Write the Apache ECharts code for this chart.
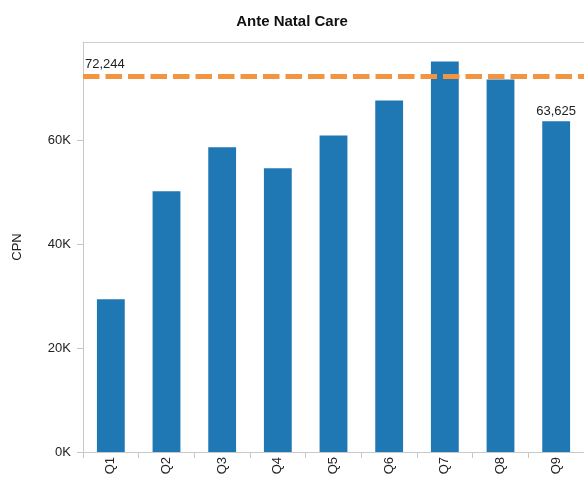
<!DOCTYPE html>
<html>
<head>
<meta charset="utf-8">
<script src="https://cdn.jsdelivr.net/npm/echarts@6/dist/echarts.min.js"></script>
<style>
html,body{margin:0;padding:0;background:#fff;}
#chart{width:584px;height:478px;}
</style>
</head>
<body>
<div id="chart"></div>
<script>
const categories = ['Q1','Q2','Q3','Q4','Q5','Q6','Q7','Q8','Q9'];
const values = [29400, 50150, 58600, 54570, 60900, 67600, 75100, 71650, 63625];
const targetValue = 72244;
const yTicks = [0, 20000, 40000, 60000];
const yMax = 78860;
const labelledIndex = 8;

const fmt = v => v.toLocaleString('en-US');
const chart = echarts.init(document.getElementById('chart'), null, {renderer: 'canvas'});
chart.setOption({
  animation: false,
  textStyle: {fontFamily: 'Liberation Sans, Arial, sans-serif'},
  title: {
    text: 'Ante Natal Care', left: 'center', top: 9,
    textStyle: {fontSize: 15, fontWeight: 'bold', color: '#111', fontFamily: 'Liberation Sans, Arial, sans-serif'}
  },
  grid: {left: 83, top: 42, width: 504, height: 410, show: false},
  xAxis: [{
    type: 'category', data: categories,
    axisLine: {lineStyle: {color: '#c8c8c8', width: 1}},
    axisTick: {show: true, length: 6, lineStyle: {color: '#c8c8c8'}},
    axisLabel: {rotate: 90, fontSize: 13, color: '#222', margin: 5}
  }, {
    type: 'category', data: categories, position: 'top',
    axisLine: {show: true, lineStyle: {color: '#cfcfcf', width: 1}},
    axisTick: {show: false}, axisLabel: {show: false}
  }],
  yAxis: {
    type: 'value', min: 0, max: yMax, interval: 20000,
    name: 'CPN', nameLocation: 'middle', nameGap: 59, nameRotate: 90,
    nameTextStyle: {fontSize: 13, color: '#222'},
    splitLine: {show: false},
    axisLine: {show: true, lineStyle: {color: '#c8c8c8', width: 1}},
    axisTick: {show: true, length: 6, lineStyle: {color: '#c8c8c8'}, customValues: yTicks},
    axisLabel: {fontSize: 13, color: '#222', margin: 12, customValues: yTicks,
      formatter: v => (v / 1000) + 'K'}
  },
  series: [{
    type: 'bar', data: values.map((v, i) => ({
      value: v,
      label: {show: i === labelledIndex, position: 'top', distance: 3, fontSize: 13, color: '#222', formatter: p => fmt(p.value)}
    })),
    barWidth: '50%',
    itemStyle: {color: '#1f77b4'},
    markLine: {
      silent: true, symbol: 'none',
      lineStyle: {color: '#f39440', width: 5, type: [16.5, 6], opacity: 1},
      label: {show: true, position: 'insideStartTop', distance: [2, 5], fontSize: 13, color: '#222', formatter: () => fmt(targetValue)},
      data: [{yAxis: targetValue}]
    }
  }]
});
</script>
</body>
</html>
